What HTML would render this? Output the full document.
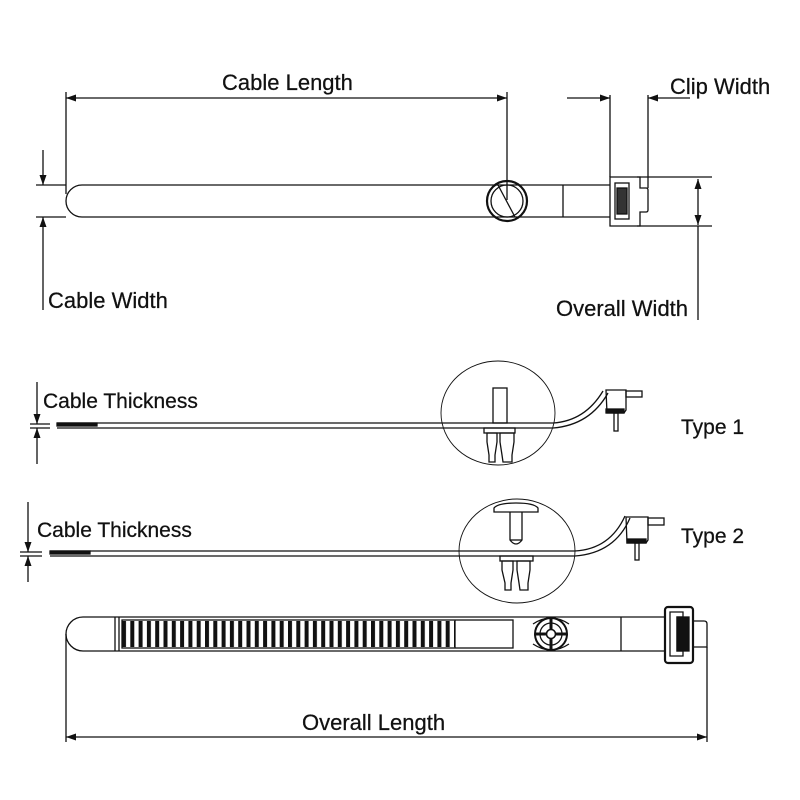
<!DOCTYPE html>
<html><head><style>
html,body{margin:0;padding:0;background:#fff;}
svg{display:block;}
text{font-family:"Liberation Sans",Arial,sans-serif;fill:#111;stroke:#111;stroke-width:0.25;}
</style></head><body>
<svg width="800" height="800" viewBox="0 0 800 800" xmlns="http://www.w3.org/2000/svg">
<defs>
<marker id="a" viewBox="0 0 10 10" refX="10" refY="5" markerWidth="10" markerHeight="10" orient="auto-start-reverse" markerUnits="userSpaceOnUse"><path d="M0,1.5 L10,5 L0,8.5 Z" fill="#111"/></marker>
<pattern id="teeth" x="122" y="0" width="8.3" height="10" patternUnits="userSpaceOnUse"><rect x="0" y="0" width="4" height="10" fill="#111"/></pattern>
</defs>
<g stroke="#111" fill="none" stroke-width="1.3">
<!-- TOP TIE -->
<path d="M82,185 L610,185 M82,217 L610,217 M82,185 A16,16 0 0 0 82,217"/>
<line x1="66" y1="92" x2="66" y2="194"/>
<line x1="563" y1="185" x2="563" y2="217"/>
<circle cx="507" cy="201" r="20" stroke-width="2.2"/>
<circle cx="507" cy="201" r="16"/>
<line x1="498" y1="185" x2="515" y2="217"/>
<line x1="507" y1="92" x2="507" y2="200"/>
<line x1="66" y1="98" x2="507" y2="98" marker-start="url(#a)" marker-end="url(#a)"/>
<!-- clip -->
<path d="M610,177 L640,177 L640,188 L646,188 Q648,188 648,190 L648,210 Q648,212 646,212 L640,212 L640,226 L610,226 Z"/>
<rect x="615" y="183" width="14" height="36"/>
<rect x="617" y="188" width="10" height="26" fill="#333"/>
<line x1="610" y1="95" x2="610" y2="177"/>
<line x1="648" y1="95" x2="648" y2="188"/>
<line x1="567" y1="98" x2="610" y2="98" marker-end="url(#a)"/>
<line x1="690" y1="98" x2="648" y2="98" marker-end="url(#a)"/>
<line x1="637" y1="177" x2="712" y2="177"/>
<line x1="637" y1="226" x2="712" y2="226"/>
<line x1="698" y1="179" x2="698" y2="225" marker-start="url(#a)" marker-end="url(#a)"/>
<line x1="698" y1="226" x2="698" y2="320"/>
<line x1="36" y1="185" x2="66" y2="185"/>
<line x1="36" y1="217" x2="66" y2="217"/>
<line x1="43" y1="150" x2="43" y2="185" marker-end="url(#a)"/>
<line x1="43" y1="310" x2="43" y2="217" marker-end="url(#a)"/>
<!-- TYPE 1 -->
<line x1="37" y1="382" x2="37" y2="424" marker-end="url(#a)"/>
<line x1="37" y1="464" x2="37" y2="428" marker-end="url(#a)"/>
<line x1="30" y1="424" x2="50" y2="424"/><line x1="30" y1="428" x2="50" y2="428"/>
<path d="M57,423 L553,423 Q585,421 603,391" />
<path d="M57,428 L553,428 Q590,425 608,393" />
<rect x="57" y="423" width="40" height="3" fill="#111"/>
<ellipse cx="498" cy="413" rx="57" ry="52" stroke-width="0.9"/>
<rect x="493" y="388" width="14" height="35"/>
<rect x="484" y="428" width="31" height="5"/>
<path d="M487,433 L497,433 L497,442 L495,455 L495,462 L489,462 L489,455 L487,442 Z"/>
<path d="M500,433 L514,433 L514,442 L512,455 L512,462 L503,462 L502,455 L500,442 Z"/>
<path d="M606,390 L626,390 L626,410 L624,413 L607,413 Z"/>
<rect x="606" y="409" width="18" height="4" fill="#111"/>
<rect x="626" y="391" width="16" height="6"/>
<rect x="614" y="413" width="4" height="18"/>
<!-- TYPE 2 -->
<line x1="28" y1="502" x2="28" y2="552" marker-end="url(#a)"/>
<line x1="28" y1="582" x2="28" y2="556" marker-end="url(#a)"/>
<line x1="20" y1="552" x2="42" y2="552"/><line x1="20" y1="556" x2="42" y2="556"/>
<path d="M50,551 L575,551 Q610,549 625,516" />
<path d="M50,556 L575,556 Q615,553 630,518" />
<rect x="50" y="551" width="40" height="3" fill="#111"/>
<ellipse cx="517" cy="551" rx="58" ry="52" stroke-width="0.9"/>
<path d="M494,512 L538,512 L538,508 Q534,503 516,503 Q498,503 494,508 Z"/>
<path d="M510,512 L510,540 Q516,548 522,540 L522,512"/>
<line x1="510" y1="540" x2="522" y2="540"/>
<rect x="500" y="556" width="33" height="5"/>
<path d="M502,561 L513,561 L513,570 L511,583 L511,590 L505,590 L505,583 L502,570 Z"/>
<path d="M517,561 L530,561 L530,570 L528,583 L528,590 L520,590 L519,583 L517,570 Z"/>
<path d="M626,517 L648,517 L648,540 L646,543 L627,543 Z"/>
<rect x="627" y="539" width="19" height="4" fill="#111"/>
<rect x="648" y="518" width="16" height="7"/>
<rect x="635" y="543" width="4" height="17"/>
<!-- BOTTOM TIE -->
<path d="M83,617 L665,617 M83,651 L665,651 M83,617 A17,17 0 0 0 83,651"/>
<line x1="115" y1="617" x2="115" y2="651"/><line x1="119" y1="617" x2="119" y2="651"/>
<rect x="122" y="620" width="391" height="28"/>
<rect x="122" y="621" width="333" height="26" fill="url(#teeth)" stroke="none"/>
<line x1="455" y1="620" x2="455" y2="648"/>
<line x1="621" y1="617" x2="621" y2="651"/>
<circle cx="551" cy="634" r="16" stroke-width="2"/>
<circle cx="551" cy="634" r="11"/>
<circle cx="551" cy="634" r="4.5" stroke-width="1.6"/>
<path d="M551,618 L551,629 M551,639 L551,650 M535,634 L546,634 M556,634 L567,634" stroke-width="3"/>
<path d="M533,624 Q551,612 569,624 M533,644 Q551,656 569,644"/>
<path d="M693,621 L704,621 Q707,621 707,624 L707,647 L693,647"/>
<rect x="665" y="607" width="28" height="56" rx="3" stroke-width="2.2"/>
<path d="M670,612 L683,612 L683,617 L677,617 L677,651 L683,651 L683,656 L670,656 Z"/>
<rect x="677" y="617" width="12" height="34" fill="#111"/>
<line x1="66" y1="634" x2="66" y2="742"/>
<line x1="707" y1="647" x2="707" y2="742"/>
<line x1="66" y1="737" x2="707" y2="737" marker-start="url(#a)" marker-end="url(#a)"/>
</g>
<text x="222" y="90" font-size="22">Cable Length</text>
<text x="670" y="94" font-size="22">Clip Width</text>
<text x="48" y="308" font-size="22">Cable Width</text>
<text x="556" y="316" font-size="22">Overall Width</text>
<text x="43" y="408" font-size="21">Cable Thickness</text>
<text x="37" y="537" font-size="21">Cable Thickness</text>
<text x="681" y="434" font-size="21">Type 1</text>
<text x="681" y="543" font-size="21">Type 2</text>
<text x="302" y="730" font-size="22">Overall Length</text>
</svg>
</body></html>
